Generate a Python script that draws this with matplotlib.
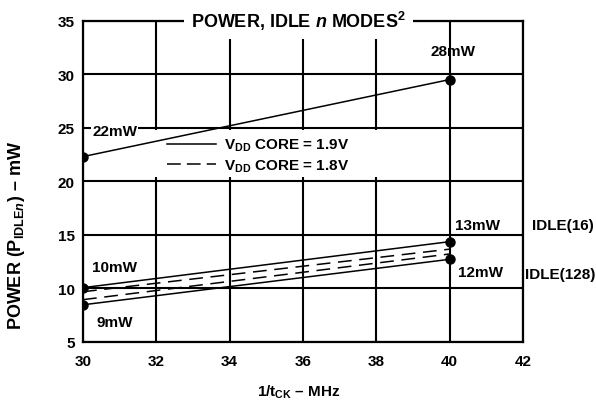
import matplotlib
matplotlib.use("Agg")
import matplotlib.pyplot as plt
from matplotlib.patches import Rectangle
from matplotlib.lines import Line2D

plt.rcParams['font.family'] = ['Liberation Sans', 'DejaVu Sans']
plt.rcParams['font.weight'] = 'bold'
plt.rcParams['mathtext.fontset'] = 'custom'
plt.rcParams['mathtext.rm'] = 'Liberation Sans:bold'
plt.rcParams['mathtext.it'] = 'Liberation Sans:bold:italic'
plt.rcParams['mathtext.bf'] = 'Liberation Sans:bold'

# ---- data ----
freq = [30, 40]
core19_idle = [22.3, 29.5]          # upper curve (1.9 V)
idle16_19 = [10.05, 14.35]          # IDLE(16) at 1.9 V
idle16_18 = [9.67, 13.65]           # IDLE(16) at 1.8 V
idle128_18 = [8.93, 13.2]           # IDLE(128) at 1.8 V
idle128_19 = [8.45, 12.7]           # IDLE(128) at 1.9 V
xticks = [30, 32, 34, 36, 38, 40, 42]
yticks = [5, 10, 15, 20, 25, 30, 35]

fig = plt.figure(figsize=(5.96, 4.02), dpi=100)
ax = fig.add_axes([0.1393, 0.1475, 0.7382, 0.7985])

ax.set_xlim(30, 42)
ax.set_ylim(5, 35)
ax.set_xticks(xticks)
ax.set_yticks(yticks)
ax.tick_params(length=0, labelsize=11)
ax.tick_params(axis='x', pad=9)
ax.tick_params(axis='y', pad=6)
for lab in ax.get_xticklabels() + ax.get_yticklabels():
    lab.set_fontweight('bold')
ax.set_axisbelow(True)
ax.grid(True, color='black', linewidth=1.5)
for s in ax.spines.values():
    s.set_linewidth(1.6)
    s.set_zorder(4)

# white background behind legend (covers grid)
ax.add_patch(Rectangle((0.155, 0.512), 0.52, 0.148, transform=ax.transAxes,
                       facecolor='white', edgecolor='none', zorder=1.5))

lw = 1.1
solid_kw = dict(color='black', linewidth=lw, zorder=3)
dash_kw = dict(color='black', linewidth=lw, linestyle=(0, (9, 5)), zorder=3)

ax.plot(freq, core19_idle, marker='o', markersize=6.5, **solid_kw)
ax.plot(freq, idle16_19, marker='o', markersize=6.5, **solid_kw)
ax.plot(freq, idle128_19, marker='o', markersize=6.5, **solid_kw)
ax.plot(freq, idle16_18, **dash_kw)
ax.plot(freq, idle128_18, **dash_kw)

handles = [Line2D([], [], color='black', linewidth=lw),
           Line2D([], [], color='black', linewidth=lw, linestyle=(0, (9, 4)))]
leg = ax.legend(handles, [r'V$_{\mathrm{DD}}$ CORE = 1.9V', r'V$_{\mathrm{DD}}$ CORE = 1.8V'],
                loc='upper left', bbox_to_anchor=(0.191, 0.638), frameon=False,
                fontsize=11, handlelength=3.2, handletextpad=0.55,
                labelspacing=0.25, borderaxespad=0, borderpad=0)
leg.set_zorder(3.5)

# title with white box over top border
ax.text(0.49, 1.0, r'POWER, IDLE $\mathit{n}$ MODES$^{2}$', transform=ax.transAxes,
        ha='center', va='center', fontsize=13, fontweight='bold', zorder=6,
        bbox=dict(facecolor='white', edgecolor='none', pad=5))

tk = dict(fontsize=11, fontweight='bold', zorder=5)
ax.text(40.09, 32.2, '28mW', ha='center', va='center', **tk)
ax.text(30.25, 24.7, '22mW', ha='left', va='center',
        bbox=dict(facecolor='white', edgecolor='none', pad=0.5), **tk)
ax.text(30.25, 12.0, '10mW', ha='left', va='center', **tk)
ax.text(30.38, 6.85, '9mW', ha='left', va='center', **tk)
ax.text(40.15, 15.95, '13mW', ha='left', va='center', **tk)
ax.text(40.22, 11.55, '12mW', ha='left', va='center', **tk)
ax.text(42.25, 15.95, 'IDLE(16)', ha='left', va='center', clip_on=False, **tk)
ax.text(42.05, 11.35, 'IDLE(128)', ha='left', va='center', clip_on=False, **tk)

ax.set_xlabel(r'1/t$_{\mathrm{CK}}$ – MHz', fontsize=11, fontweight='bold')
ax.xaxis.label.set_va('center')
ax.xaxis.set_label_coords(0.49, -0.155)
ax.set_ylabel(r'POWER (P$_{\mathrm{IDLE}\mathit{n}}$) – mW', fontsize=13,
              fontweight='bold')
ax.yaxis.label.set_va('center')
ax.yaxis.set_label_coords(-0.152, 0.335)

fig.savefig('out.png', dpi=100)
